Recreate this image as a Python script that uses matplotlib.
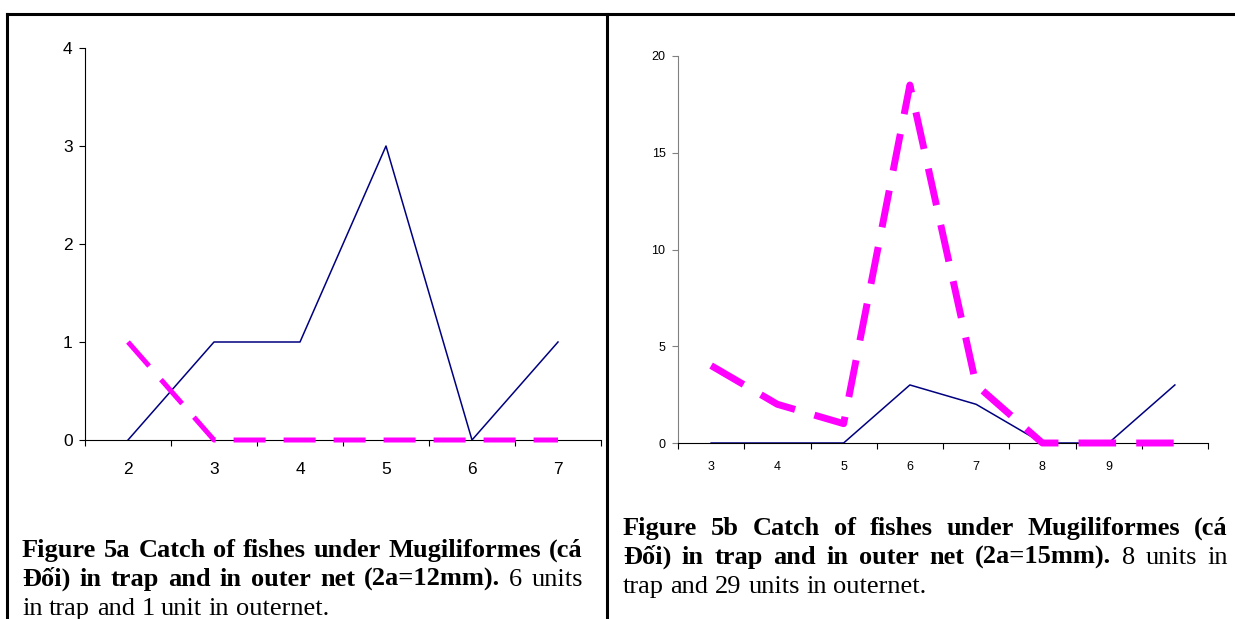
import matplotlib
matplotlib.use("Agg")
import matplotlib.pyplot as plt
from matplotlib.lines import Line2D
import numpy as np

# Figure 5a data (2a=12mm)
sizes_5a = ["2", "3", "4", "5", "6", "7"]
trap_5a = [0, 1, 1, 3, 0, 1]
outer_5a = [1, 0, 0, 0, 0, 0]

# Figure 5b data (2a=15mm)
sizes_5b = ["3", "4", "5", "6", "7", "8", "9", ""]
trap_5b = [0, 0, 0, 3, 2, 0, 0, 3]
outer_5b = [4, 2, 1, 18.5, 3, 0, 0, 0]

caption_5a = [
    [("Figure 5a Catch of fishes under Mugiliformes (cá", "bold")],
    [("Đối) in trap and in outer net (2a=12mm).", "bold"), ("6 units", "normal")],
    [("in trap and 1 unit in outernet.", "normal")],
]
caption_5b = [
    [("Figure 5b Catch of fishes under Mugiliformes (cá", "bold")],
    [("Đối) in trap and in outer net (2a=15mm).", "bold"), ("8 units in", "normal")],
    [("trap and 29 units in outernet.", "normal")],
]

W, H = 1235, 619
fig = plt.figure(figsize=(W / 100, H / 100), dpi=100)


def px_axes(x0, y0, x1, y1):
    return fig.add_axes([x0 / W, 1 - y1 / H, (x1 - x0) / W, (y1 - y0) / H])


def style_axes(ax, n, labels, tick_size, lab_pad, ycolor):
    ax.set_xlim(-0.5, n - 0.5)
    ax.spines[["top", "right"]].set_visible(False)
    ax.spines["left"].set_color(ycolor)
    ax.spines["bottom"].set_color("black")
    ax.set_xticks(np.arange(n + 1) - 0.5)
    ax.set_xticklabels([])
    ax.set_xticks(np.arange(n), minor=True)
    ax.set_xticklabels(labels, minor=True, fontsize=tick_size, family="Liberation Sans")
    ax.tick_params(axis="x", which="major", direction="out", length=4, width=0.8)
    ax.tick_params(axis="x", which="minor", length=0, pad=lab_pad)
    ax.tick_params(axis="y", direction="out", length=4, width=0.8, pad=5,
                   labelsize=tick_size, color=ycolor)
    for t in ax.get_yticklabels():
        t.set_family("Liberation Sans")


# left panel
ax1 = px_axes(85, 48, 601, 440)
x1 = np.arange(len(sizes_5a))
ax1.plot(x1, trap_5a, color="#000080", lw=1.1, zorder=3)
ax1.plot(x1, outer_5a, color="#FF00FF", lw=3.6, dashes=(6.4, 3.6),
         solid_capstyle="butt", dash_capstyle="butt", clip_on=False, zorder=4)
ax1.set_ylim(0, 4)
ax1.set_yticks([0, 1, 2, 3, 4])
style_axes(ax1, len(sizes_5a), sizes_5a, 12.5, 16, "black")

# right panel
ax2 = px_axes(678, 56, 1208, 443)
x2 = np.arange(len(sizes_5b))
ax2.plot(x2, trap_5b, color="#000080", lw=1.1, zorder=3)
ax2.plot(x2, outer_5b, color="#FF00FF", lw=5, dashes=(5.4, 2.9),
         solid_capstyle="butt", dash_capstyle="butt", clip_on=False, zorder=4)
ax2.set_ylim(0, 20)
ax2.set_yticks([0, 5, 10, 15, 20])
style_axes(ax2, len(sizes_5b), sizes_5b, 9, 13, "#808080")

# table borders
lw_b = 2.2
fig.add_artist(Line2D([7 / W, 1], [1 - 14 / H, 1 - 14 / H], color="black", lw=lw_b))
fig.add_artist(Line2D([7 / W, 7 / W], [1 - 14 / H, 0], color="black", lw=lw_b))
fig.add_artist(Line2D([607 / W, 607 / W], [1 - 14 / H, 0], color="black", lw=lw_b))

renderer = fig.canvas.get_renderer()
cap_size = 19


def put_caption(lines, x0, x1, baselines):
    for i, (segs, yb) in enumerate(zip(lines, baselines)):
        words = []
        for txt, wt in segs:
            for w in txt.split(" "):
                words.append((w, wt))
        items = []
        for w, wt in words:
            t = fig.text(0, 1 - yb / H, w, fontsize=cap_size, weight=wt,
                         family="Liberation Serif", va="baseline", ha="left")
            items.append((t, t.get_window_extent(renderer).width))
        total = sum(wd for _, wd in items)
        last = i == len(lines) - 1
        if last or len(items) < 2:
            gap = cap_size * 100 / 72 * 0.25
        else:
            gap = (x1 - x0 - total) / (len(items) - 1)
        x = x0
        for t, wd in items:
            t.set_x(x / W)
            x += wd + gap


put_caption(caption_5a, 22, 583, [557, 586, 615])
put_caption(caption_5b, 623, 1228, [535, 564, 593])

fig.savefig("out.png", dpi=100)
